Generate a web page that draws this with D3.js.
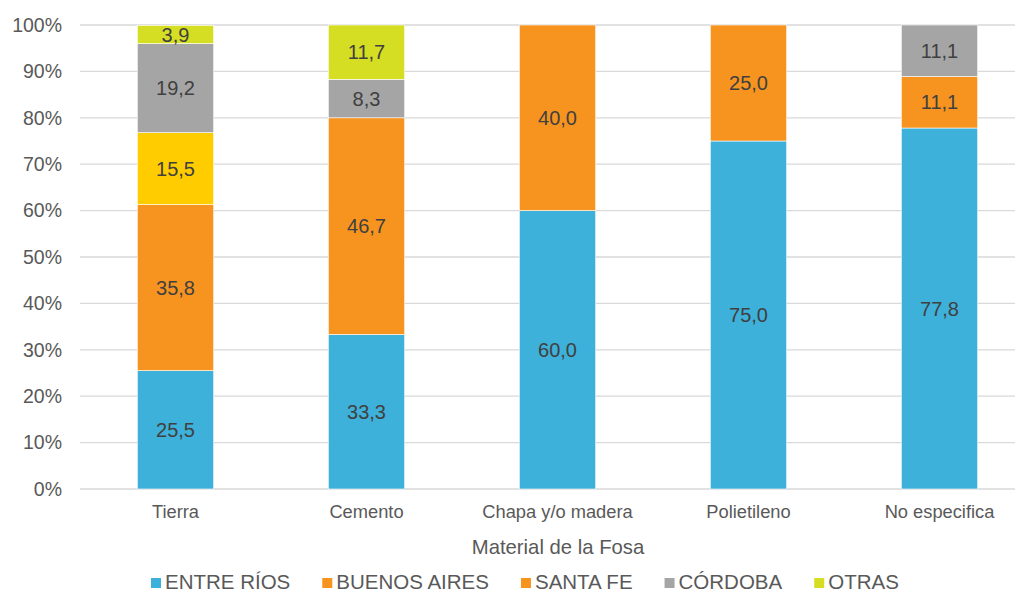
<!DOCTYPE html>
<html>
<head>
<meta charset="utf-8">
<script src="https://cdn.jsdelivr.net/npm/d3@7"></script>
<style>
  body { margin: 0; background: #fff; }
  svg { display: block; font-family: "Liberation Sans", Arial, sans-serif; }
</style>
</head>
<body>
<svg id="chart" width="1015" height="594"></svg>
<script>
var categories = ['Tierra', 'Cemento', 'Chapa y/o madera', 'Polietileno', 'No especifica'];
var seriesNames = ['ENTRE RÍOS', 'BUENOS AIRES', 'SANTA FE', 'CÓRDOBA', 'OTRAS'];
var entreRios   = [25.5, 33.3, 60.0, 75.0, 77.8];
var buenosAires = [35.8, 46.7, 40.0, 25.0, 11.1];
var santaFe     = [15.5, 0, 0, 0, 0];
var cordoba     = [19.2, 8.3, 0, 0, 11.1];
var otras       = [3.9, 11.7, 0, 0, 0];
var yTicks = [0, 10, 20, 30, 40, 50, 60, 70, 80, 90, 100];

var colors = ['#3EB1DA', '#F7941F', '#F7941F', '#A5A5A5', '#D6DE23'];
// the Tierra / Santa Fe point was recoloured in the original chart
var pointColor = { '2-0': '#FFCC00' };

var svg = d3.select('#chart'),
    margin = { top: 25, left: 80 },
    plotH = 464;

var x = d3.scaleBand()
    .domain(categories)
    .range([margin.left, margin.left + 955])
    .paddingInner(0.6)
    .paddingOuter(0.3);

var y = d3.scaleLinear()
    .domain([0, 100])
    .range([margin.top + plotH, margin.top]);

// gridlines
svg.append('g').selectAll('line')
    .data(yTicks)
    .enter().append('line')
    .attr('x1', margin.left).attr('x2', 1015)
    .attr('y1', function(d) { return y(d); })
    .attr('y2', function(d) { return y(d); })
    .attr('stroke', '#D9D9D9')
    .attr('stroke-width', 1.3);

// y axis labels
var yAxis = d3.axisLeft(y).tickValues(yTicks)
    .tickFormat(function(d) { return d + '%'; })
    .tickSize(0).tickPadding(18);
var gy = svg.append('g')
    .attr('transform', 'translate(' + margin.left + ',0)')
    .call(yAxis);
gy.select('.domain').remove();
gy.selectAll('text')
    .attr('fill', '#595959')
    .style('font-size', '19.5px')
    .style('font-family', '"Liberation Sans", Arial, sans-serif');

// stacked bars
var values = [entreRios, buenosAires, santaFe, cordoba, otras];
var rows = categories.map(function(c, i) {
    var r = { cat: c };
    seriesNames.forEach(function(s, k) { r[s] = values[k][i]; });
    return r;
});
var stacked = d3.stack().keys(seriesNames)(rows);

var layers = svg.append('g').selectAll('g')
    .data(stacked)
    .enter().append('g');

layers.selectAll('rect')
    .data(function(d, k) { return d.map(function(p, i) { return { p: p, k: k, i: i }; }); })
    .enter().filter(function(d) { return d.p[1] - d.p[0] > 0; })
    .append('rect')
    .attr('x', function(d) { return x(d.p.data.cat); })
    .attr('width', x.bandwidth())
    .attr('y', function(d) { return y(d.p[1]); })
    .attr('height', function(d) { return y(d.p[0]) - y(d.p[1]); })
    .attr('fill', function(d) { return pointColor[d.k + '-' + d.i] || colors[d.k]; })
    .attr('stroke', '#ffffff')
    .attr('stroke-width', 0.6);

layers.selectAll('text')
    .data(function(d) { return d.filter(function(p) { return p[1] - p[0] > 0; }); })
    .enter().append('text')
    .attr('x', function(p) { return x(p.data.cat) + x.bandwidth() / 2; })
    .attr('y', function(p) { return y((p[0] + p[1]) / 2); })
    .attr('dy', '0.36em')
    .attr('text-anchor', 'middle')
    .attr('fill', '#404040')
    .style('font-size', '20px')
    .text(function(p) { return d3.format('.1f')(p[1] - p[0]).replace('.', ','); });

// x axis labels
var xAxis = d3.axisBottom(x).tickSize(0).tickPadding(16);
var gx = svg.append('g')
    .attr('transform', 'translate(0,' + (margin.top + plotH) + ')')
    .call(xAxis);
gx.select('.domain').remove();
gx.selectAll('text')
    .attr('fill', '#595959')
    .style('font-size', '18.3px')
    .style('font-family', '"Liberation Sans", Arial, sans-serif');

svg.append('text')
    .attr('x', 558).attr('y', 547)
    .attr('dy', '0.36em')
    .attr('text-anchor', 'middle')
    .attr('fill', '#595959')
    .style('font-size', '20.3px')
    .text('Material de la Fosa');

// legend
var legend = svg.append('g').attr('transform', 'translate(0,582)');
var lx = 151;
seriesNames.forEach(function(s, k) {
    var item = legend.append('g').attr('transform', 'translate(' + lx + ',0)');
    item.append('rect')
        .attr('x', 0).attr('y', -4)
        .attr('width', 10).attr('height', 10)
        .attr('fill', colors[k]);
    var t = item.append('text')
        .attr('x', 14).attr('dy', '0.36em')
        .attr('fill', '#595959')
        .style('font-size', '20.5px')
        .text(s);
    lx += 14 + t.node().getComputedTextLength() + 32;
});
</script>
</body>
</html>
